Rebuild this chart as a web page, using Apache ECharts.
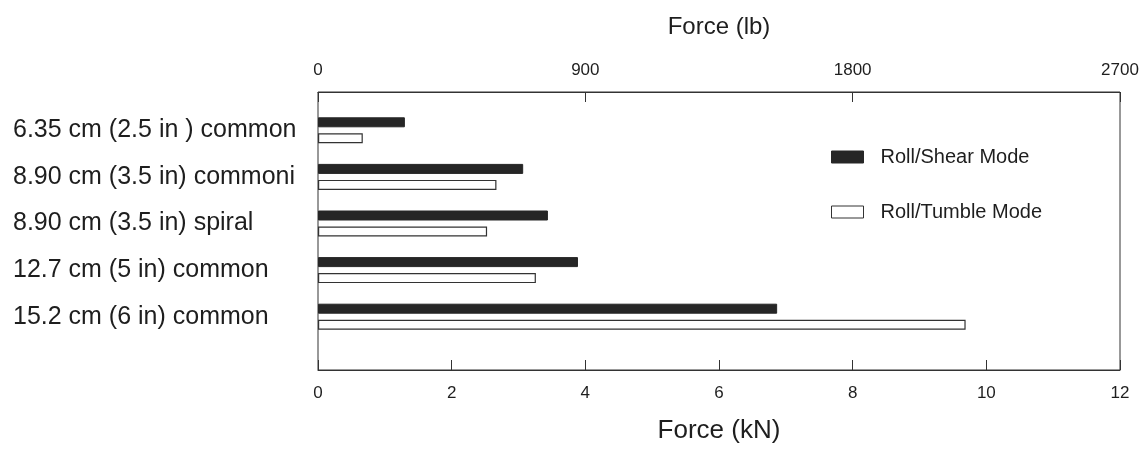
<!DOCTYPE html>
<html>
<head>
<meta charset="utf-8">
<script src="https://cdn.jsdelivr.net/npm/echarts@6/dist/echarts.min.js"></script>
<style>
html,body{margin:0;padding:0;background:#fff;}
#chart{width:1143px;height:453px;}
</style>
</head>
<body>
<div id="chart"></div>
<script>
const categories = [
  "6.35 cm (2.5 in ) common",
  "8.90 cm (3.5 in) commoni",
  "8.90 cm (3.5 in) spiral",
  "12.7 cm (5 in) common",
  "15.2 cm (6 in) common"
];
const rollShear = [1.30, 3.07, 3.44, 3.89, 6.87];
const rollTumble = [0.67, 2.67, 2.53, 3.26, 9.69];
const kNTicks = { min: 0, max: 12, interval: 2 };
const lbTicks = { min: 0, max: 2700, interval: 900 };

const FONT = '"Liberation Sans", Arial, sans-serif';
const TXT = '#1e1e1e';
const LINE = '#333';

const chart = echarts.init(document.getElementById('chart'), null, {renderer: 'canvas'});
chart.setOption({
  backgroundColor: '#fff',
  animation: false,
  textStyle: { fontFamily: FONT, color: TXT },
  legend: {
    orient: 'vertical',
    left: 826, top: 142,
    icon: 'rect',
    itemWidth: 32, itemHeight: 12, itemGap: 35,
    textStyle: { fontSize: 20, color: TXT, fontFamily: FONT, padding: [0, 0, 0, 12] },
    data: [
      { name: 'Roll/Shear Mode', itemStyle: { color: '#262626', borderColor: '#262626', borderWidth: 1 } },
      { name: 'Roll/Tumble Mode', itemStyle: { color: '#fff', borderColor: '#333', borderWidth: 1 } }
    ]
  },
  grid: [
    { left: 318, right: 23, top: 92, bottom: 83, show: true, borderColor: LINE, borderWidth: 1, containLabel: false },
    { left: 318, right: 23, top: 107, height: 233, containLabel: false }
  ],
  xAxis: [
    {
      gridIndex: 0, type: 'value', position: 'bottom',
      min: kNTicks.min, max: kNTicks.max, interval: kNTicks.interval,
      name: 'Force (kN)', nameLocation: 'middle', nameGap: 48,
      nameTextStyle: { fontSize: 26, color: TXT, fontFamily: FONT },
      axisLine: { show: true, lineStyle: { color: LINE } },
      axisTick: { show: true, inside: true, length: 10, lineStyle: { color: LINE } },
      axisLabel: { fontSize: 17, color: TXT, margin: 15, fontFamily: FONT },
      splitLine: { show: false }
    },
    {
      gridIndex: 0, type: 'value', position: 'top',
      min: lbTicks.min, max: lbTicks.max, interval: lbTicks.interval,
      name: 'Force (lb)', nameLocation: 'middle', nameGap: 53,
      nameTextStyle: { fontSize: 24, color: TXT, fontFamily: FONT },
      axisLine: { show: true, lineStyle: { color: LINE } },
      axisTick: { show: true, inside: true, length: 10, lineStyle: { color: LINE } },
      axisLabel: { fontSize: 17, color: TXT, margin: 13, fontFamily: FONT, formatter: v => String(v) },
      splitLine: { show: false }
    },
    {
      gridIndex: 1, type: 'value',
      min: kNTicks.min, max: kNTicks.max, show: false
    }
  ],
  yAxis: [
    {
      gridIndex: 0, type: 'value', min: 0, max: 1, show: false
    },
    {
      gridIndex: 1, type: 'category', data: categories, inverse: true,
      axisLine: { show: false }, axisTick: { show: false },
      axisLabel: { fontSize: 25, color: TXT, align: 'left', margin: 305, fontFamily: FONT, padding: [6, 0, 0, 0] }
    }
  ],
  series: [
    {
      name: 'Roll/Shear Mode', type: 'bar', xAxisIndex: 2, yAxisIndex: 1,
      data: rollShear, barWidth: 10, barGap: '60%',
      itemStyle: { color: '#262626', borderColor: '#262626', borderWidth: 1 }
    },
    {
      name: 'Roll/Tumble Mode', type: 'bar', xAxisIndex: 2, yAxisIndex: 1,
      data: rollTumble, barWidth: 10, barGap: '60%',
      itemStyle: { color: '#fff', borderColor: '#333', borderWidth: 1.2 }
    }
  ]
});
</script>
</body>
</html>
